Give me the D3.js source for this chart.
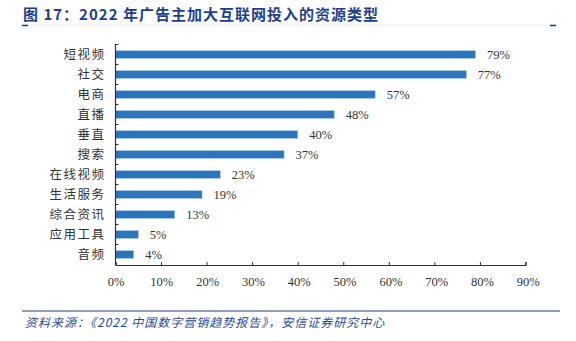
<!DOCTYPE html>
<html><head><meta charset="utf-8">
<script src="https://cdn.jsdelivr.net/npm/d3@7"></script>
<style>body{margin:0;background:#fff;}svg{display:block;}</style>
</head><body>
<script>
const categories = ["短视频","社交","电商","直播","垂直","搜索","在线视频","生活服务","综合资讯","应用工具","音频"];
const values = [79,77,57,48,40,37,23,19,13,5,4];
const xTicks = [0,10,20,30,40,50,60,70,80,90];
const titleText = "图 17：2022 年广告主加大互联网投入的资源类型";
const sourceText = "资料来源：《2022 中国数字营销趋势报告》，安信证券研究中心";

const W = 576, H = 341;
const svg = d3.select("body").append("svg").attr("width", W).attr("height", H);
const cjk = "'Noto Sans CJK SC','Noto Sans',sans-serif";
const serif = "'Liberation Serif','DejaVu Serif',serif";

// title
svg.append("text").attr("x", 23).attr("y", 20).text(titleText)
  .attr("font-family", cjk).attr("font-weight", "bold").attr("font-size", 15)
  .attr("fill", "#1c3f8c").attr("letter-spacing", 1.0);
svg.append("line").attr("x1", 22).attr("x2", 556).attr("y1", 25).attr("y2", 25)
  .attr("stroke", "#e8e8e8").attr("stroke-width", 1);
svg.append("line").attr("x1", 22).attr("x2", 28).attr("y1", 25.5).attr("y2", 25.5)
  .attr("stroke", "#1c3f8c").attr("stroke-width", 1.5);
svg.append("line").attr("x1", 550).attr("x2", 556).attr("y1", 25.5).attr("y2", 25.5)
  .attr("stroke", "#1c3f8c").attr("stroke-width", 1.5);

// scales
const x = d3.scaleLinear().domain([0, 90]).range([115.5, 525.5]);
const y = d3.scaleBand().domain(categories).range([44.5, 264.5]).paddingInner(0.62).paddingOuter(0.31);

const g = svg.append("g");
// bars
g.selectAll("rect.bar").data(values).join("rect")
  .attr("x", x(0))
  .attr("y", (d, i) => y(categories[i]))
  .attr("width", d => x(d) - x(0))
  .attr("height", y.bandwidth())
  .attr("fill", "#2e74b8")
  .attr("stroke", "#9cc3e6").attr("stroke-width", 0.6);

// value labels
g.selectAll("text.val").data(values).join("text")
  .attr("x", d => x(d) + 11.5)
  .attr("y", (d, i) => y(categories[i]) + y.bandwidth() / 2 + 4.5)
  .text(d => d + "%")
  .attr("font-family", serif).attr("font-size", 12.5).attr("fill", "#333");

// y axis
const yAxisG = svg.append("g").attr("transform", `translate(${x(0)},0)`);
yAxisG.append("line").attr("x1", 0).attr("x2", 0).attr("y1", 44).attr("y2", 265)
  .attr("stroke", "#333").attr("stroke-width", 1.2);
const yBoundaries = d3.range(categories.length).map(i => 44.5 + i * 20);
yAxisG.selectAll("line.t").data(yBoundaries).join("line")
  .attr("x1", 0).attr("x2", 3).attr("y1", d => d).attr("y2", d => d)
  .attr("stroke", "#333").attr("stroke-width", 1);
svg.append("g").selectAll("text").data(categories).join("text")
  .attr("x", 105.5)
  .attr("y", d => y(d) + y.bandwidth() / 2 + 4.5)
  .attr("text-anchor", "end")
  .attr("letter-spacing", 1.5)
  .text(d => d)
  .attr("font-family", cjk).attr("font-size", 12.5).attr("fill", "#333");

// x axis
const xAxis = d3.axisBottom(x).tickValues(xTicks).tickSize(-3).tickFormat(d => d + "%");
const xg = svg.append("g").attr("transform", "translate(0,265)").call(xAxis);
xg.select(".domain").attr("stroke", "#333").attr("stroke-width", 1.2);
xg.selectAll(".tick line").attr("stroke", "#333");
xg.selectAll(".tick text").attr("font-family", serif).attr("font-size", 12.5)
  .attr("fill", "#333").attr("dy", "0").attr("y", 21)
  .attr("dx", (d, i) => i * 0.25);

// footer
svg.append("line").attr("x1", 22).attr("x2", 560).attr("y1", 311).attr("y2", 311)
  .attr("stroke", "#1c3f8c").attr("stroke-width", 1.2);
svg.append("text").attr("x", 25).attr("y", 327).text(sourceText)
  .attr("font-family", cjk).attr("font-style", "italic").attr("font-size", 12)
  .attr("letter-spacing", 1)
  .attr("fill", "#2b4a9a");
</script>
</body></html>
